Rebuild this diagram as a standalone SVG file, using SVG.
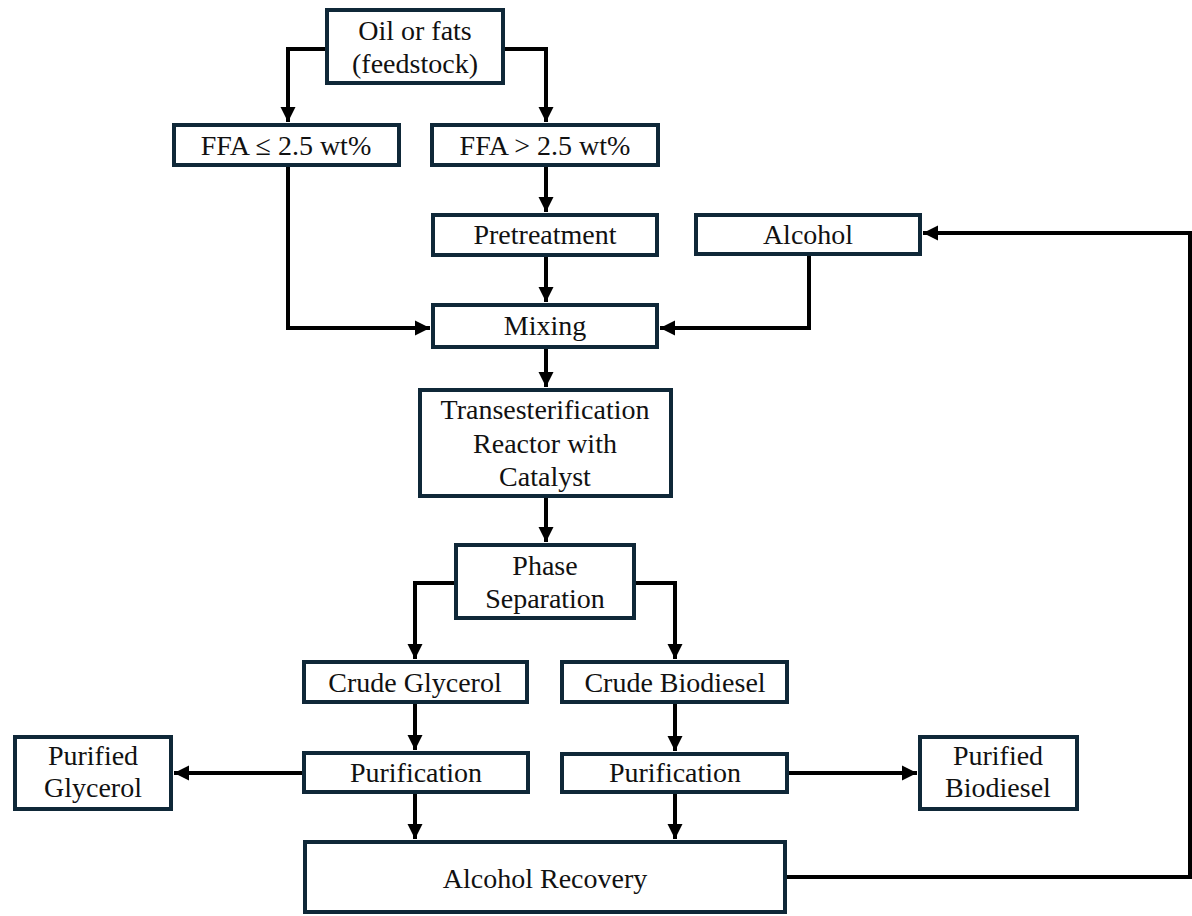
<svg xmlns="http://www.w3.org/2000/svg" width="1192" height="916" viewBox="0 0 1192 916">
<style>
.box{fill:#fff;stroke:#0f2838;stroke-width:4}
.t{font-family:'Liberation Serif','Times New Roman',serif;font-size:28px;fill:#111;text-anchor:middle}
.c{fill:none;stroke:#000;stroke-width:4}
</style>
<defs>
<marker id="ah" markerUnits="userSpaceOnUse" markerWidth="18" markerHeight="18" refX="15" refY="9" orient="auto">
<path d="M0,1.5 L15,9 L0,16.5 Z" fill="#000"/>
</marker>
</defs>
<rect width="1192" height="916" fill="#fff"/>
<g id="connectors">
<path class="c" d="M325,49 H288 V122" marker-end="url(#ah)"/>
<path class="c" d="M505,49 H546 V122" marker-end="url(#ah)"/>
<path class="c" d="M546,167 V212" marker-end="url(#ah)"/>
<path class="c" d="M288,167 V328 H430" marker-end="url(#ah)"/>
<path class="c" d="M546,257 V302" marker-end="url(#ah)"/>
<path class="c" d="M809,255 V328 H660" marker-end="url(#ah)"/>
<path class="c" d="M546,349 V387" marker-end="url(#ah)"/>
<path class="c" d="M546,498 V542" marker-end="url(#ah)"/>
<path class="c" d="M454,583 H415 V659" marker-end="url(#ah)"/>
<path class="c" d="M636,583 H675 V659" marker-end="url(#ah)"/>
<path class="c" d="M415,704 V750" marker-end="url(#ah)"/>
<path class="c" d="M675,704 V751" marker-end="url(#ah)"/>
<path class="c" d="M302,773 H174" marker-end="url(#ah)"/>
<path class="c" d="M789,773 H917" marker-end="url(#ah)"/>
<path class="c" d="M415,794 V839" marker-end="url(#ah)"/>
<path class="c" d="M675,794 V839" marker-end="url(#ah)"/>
<path class="c" d="M787,877 H1190 V233 H923" marker-end="url(#ah)"/>
</g>
<g id="oil"><rect class="box" x="327" y="10" width="176" height="73"/><text class="t" x="415" y="40">Oil or fats</text><text class="t" x="415" y="73">(feedstock)</text></g>
<g id="ffa-low"><rect class="box" x="174" y="125" width="225" height="40"/><text class="t" x="286" y="155">FFA ≤ 2.5 wt%</text></g>
<g id="ffa-high"><rect class="box" x="432" y="125" width="226" height="40"/><text class="t" x="545" y="155">FFA &gt; 2.5 wt%</text></g>
<g id="pretreatment"><rect class="box" x="433" y="215" width="224" height="40"/><text class="t" x="545" y="244">Pretreatment</text></g>
<g id="alcohol"><rect class="box" x="696" y="215" width="224" height="39"/><text class="t" x="808" y="244">Alcohol</text></g>
<g id="mixing"><rect class="box" x="433" y="305" width="224" height="42"/><text class="t" x="545" y="335">Mixing</text></g>
<g id="reactor"><rect class="box" x="420" y="390" width="251" height="106"/><text class="t" x="545" y="419">Transesterification</text><text class="t" x="545" y="453">Reactor with</text><text class="t" x="545" y="486">Catalyst</text></g>
<g id="phase"><rect class="box" x="456" y="545" width="178" height="73"/><text class="t" x="545" y="575">Phase</text><text class="t" x="545" y="608">Separation</text></g>
<g id="crude-glycerol"><rect class="box" x="304" y="662" width="223" height="40"/><text class="t" x="415" y="692">Crude Glycerol</text></g>
<g id="crude-biodiesel"><rect class="box" x="562" y="662" width="225" height="40"/><text class="t" x="675" y="692">Crude Biodiesel</text></g>
<g id="purif-glycerol"><rect class="box" x="304" y="753" width="224" height="39"/><text class="t" x="416" y="782">Purification</text></g>
<g id="purif-biodiesel"><rect class="box" x="562" y="754" width="225" height="38"/><text class="t" x="675" y="782">Purification</text></g>
<g id="purified-glycerol"><rect class="box" x="15" y="737" width="156" height="72"/><text class="t" x="93" y="765">Purified</text><text class="t" x="93" y="797">Glycerol</text></g>
<g id="purified-biodiesel"><rect class="box" x="920" y="737" width="157" height="72"/><text class="t" x="998" y="765">Purified</text><text class="t" x="998" y="797">Biodiesel</text></g>
<g id="recovery"><rect class="box" x="305" y="842" width="480" height="70"/><text class="t" x="545" y="888">Alcohol Recovery</text></g>
</svg>
